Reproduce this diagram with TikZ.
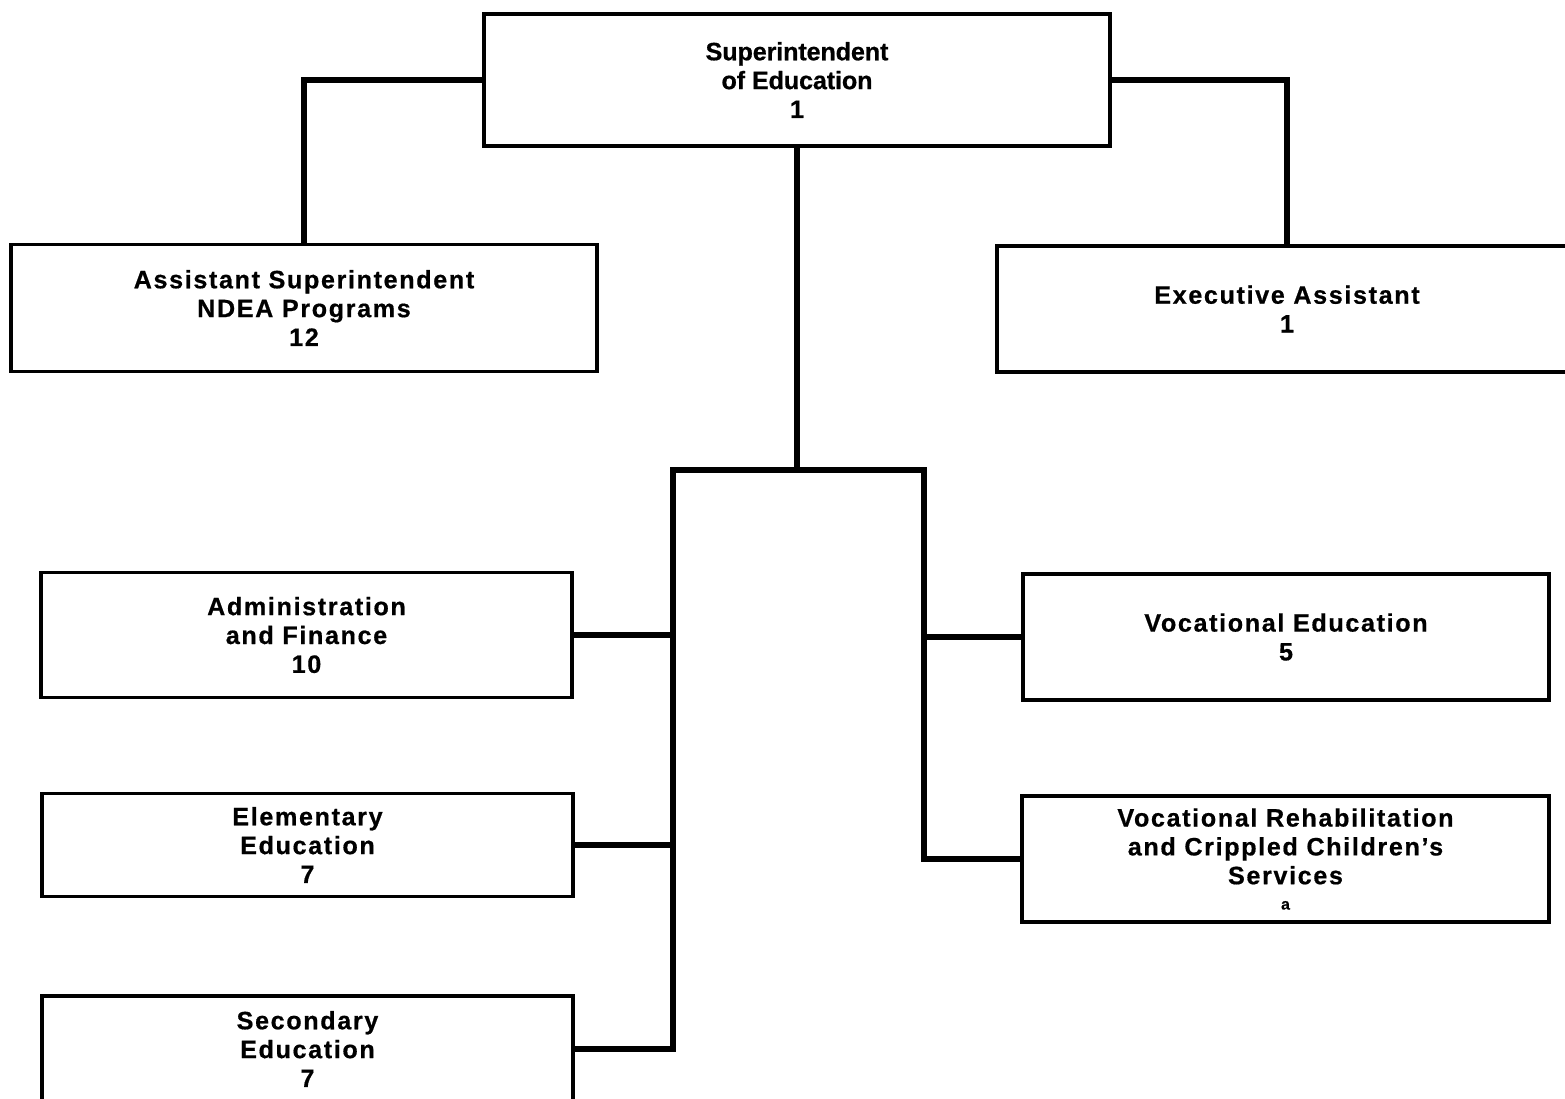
\documentclass[tikz,border=0pt]{standalone}
\usepackage{fontspec}
\setmainfont{Liberation Sans}
\newfontfamily\chartwide[LetterSpace=6.5,FakeBold=0.6]{Liberation Sans Bold}
\newfontfamily\charttop[LetterSpace=-0.5,FakeBold=0.6]{Liberation Sans Bold}
\begin{document}
\begin{tikzpicture}[x=0.01cm,y=-0.01cm,
  unit/.style 2 args={draw, line width=1.05pt, rectangle, inner sep=0pt, align=center,
    minimum width=#1*0.01cm, minimum height=#2*0.01cm,
    font=\chartwide\fontsize{7.15}{8.2}\selectfont},
  link/.style={line width=1.6pt, line join=miter}]
\useasboundingbox (0,0) rectangle (1565,1099);
\clip (0,0) rectangle (1565,1099);

% boxes
\node[unit={626}{132}, font=\charttop\fontsize{7.15}{8.2}\selectfont] (sup) at (797,80)
  {Superintendent\\of Education\\1};
\node[unit={586}{127}] (asst) at (304,308)
  {Assistant Superintendent\\NDEA Programs\\12};
\node[unit={580}{126}] (exec) at (1287,309)
  {Executive Assistant\\1};
\node[unit={531}{125}] (admin) at (306.5,635)
  {Administration\\and Finance\\10};
\node[unit={531}{103}] (elem) at (307.5,845)
  {Elementary\\Education\\7};
\node[unit={531}{106}] (sec) at (307.5,1049)
  {Secondary\\Education\\7};
\node[unit={526}{126}] (voc) at (1286,637)
  {Vocational Education\\5};
\node[unit={527}{126}] (rehab) at (1285.5,859)
  {Vocational Rehabilitation\\and Crippled Children’s\\Services\\[-1pt]{\fontsize{4.5}{5}\selectfont a}};

% branch points
\coordinate (bar) at (797,470);
\coordinate (L) at (673,470);
\coordinate (R) at (924,470);

% connectors
\draw[link] (asst.north) |- (sup.west);
\draw[link] (exec.north) |- (sup.east);
\draw[link] (sup.south) -- (bar);
\draw[link] (sec.east) -| (L) -- (R) |- (rehab.west);
\draw[link] (admin.east) -- (admin.east -| L);
\draw[link] (elem.east) -- (elem.east -| L);
\draw[link] (voc.west) -- (voc.west -| R);
\end{tikzpicture}
\end{document}
